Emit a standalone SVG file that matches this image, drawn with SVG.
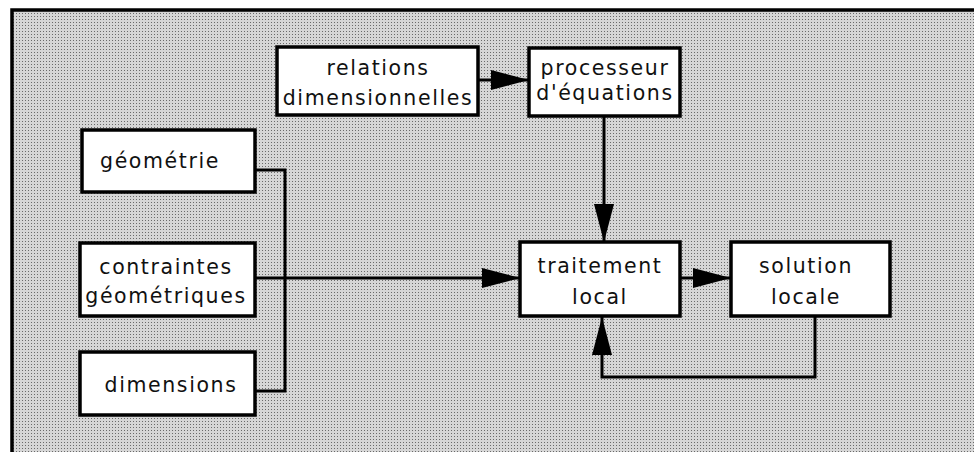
<svg xmlns="http://www.w3.org/2000/svg" width="974" height="452" viewBox="0 0 974 452">
  <defs>
    <pattern id="dots" width="3" height="3" patternUnits="userSpaceOnUse">
      <rect width="3" height="3" fill="#d6d6d6"/>
      <rect x="1" y="1" width="1" height="1" fill="#6a6a6a"/>
    </pattern>
    <marker id="arr" markerUnits="userSpaceOnUse" markerWidth="40" markerHeight="22" refX="38" refY="10" orient="auto" viewBox="0 0 40 22">
      <path d="M0,0 L38,10 L0,20 z" fill="#000"/>
    </marker>
    <style>
      .box { fill: #ffffff; stroke: #000; stroke-width: 3.5; }
      .lbl { font-family: "DejaVu Sans", "Liberation Sans", sans-serif; font-size: 20.5px; letter-spacing: 1.6px; fill: #111; text-anchor: middle; }
      .wire { fill: none; stroke: #000; stroke-width: 3; }
    </style>
  </defs>
  <rect width="974" height="452" fill="#ffffff"/>
  <rect x="12" y="10" width="970" height="450" fill="url(#dots)" stroke="#000" stroke-width="3.5"/>

  <g id="connectors">
    <line class="wire" x1="478" y1="80" x2="529" y2="80" marker-end="url(#arr)"/>
    <line class="wire" x1="604" y1="116" x2="604" y2="242" marker-end="url(#arr)"/>
    <polyline class="wire" points="255,170 285,170 285,391 255,391"/>
    <line class="wire" x1="255" y1="278" x2="520" y2="278" marker-end="url(#arr)"/>
    <line class="wire" x1="680" y1="278" x2="731" y2="278" marker-end="url(#arr)"/>
    <polyline class="wire" points="815,316 815,377 602,377 602,317" marker-end="url(#arr)"/>
  </g>

  <g id="relations">
    <rect class="box" x="277" y="47" width="201" height="68"/>
    <text class="lbl" x="378" y="75">relations</text>
    <text class="lbl" x="378" y="105">dimensionnelles</text>
  </g>
  <g id="processeur">
    <rect class="box" x="529" y="48" width="151" height="68"/>
    <text class="lbl" x="605" y="75">processeur</text>
    <text class="lbl" x="605" y="100">d'équations</text>
  </g>
  <g id="geometrie">
    <rect class="box" x="82" y="130" width="173" height="62"/>
    <text class="lbl" x="160" y="168">géométrie</text>
  </g>
  <g id="contraintes">
    <rect class="box" x="80" y="243" width="175" height="73"/>
    <text class="lbl" x="166" y="274">contraintes</text>
    <text class="lbl" x="166" y="303">géométriques</text>
  </g>
  <g id="dimensions">
    <rect class="box" x="80" y="352" width="175" height="63"/>
    <text class="lbl" x="171" y="392">dimensions</text>
  </g>
  <g id="traitement">
    <rect class="box" x="520" y="242" width="160" height="74"/>
    <text class="lbl" x="600" y="273">traitement</text>
    <text class="lbl" x="600" y="304">local</text>
  </g>
  <g id="solution">
    <rect class="box" x="731" y="242" width="159" height="74"/>
    <text class="lbl" x="806" y="273">solution</text>
    <text class="lbl" x="806" y="304">locale</text>
  </g>
</svg>
